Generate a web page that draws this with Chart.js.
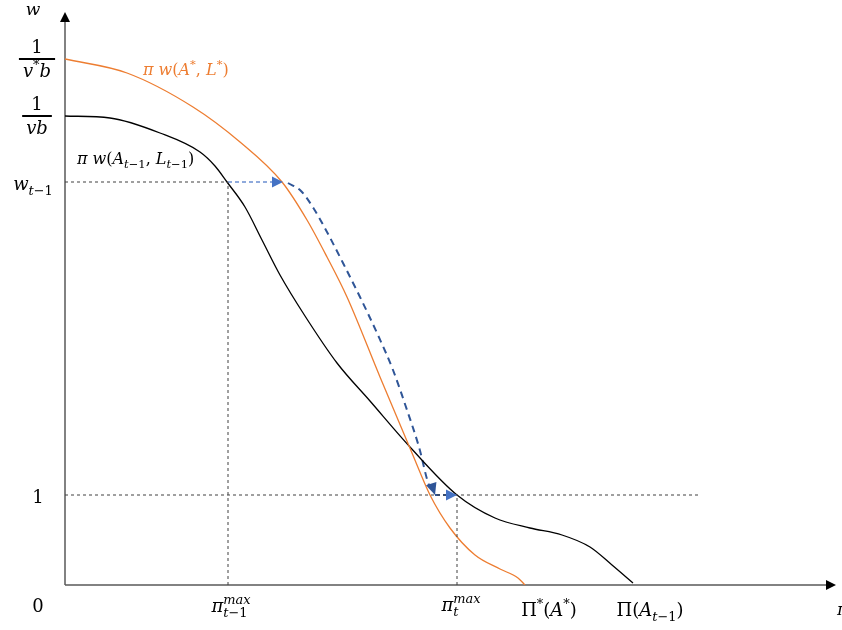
<!DOCTYPE html>
<html>
<head>
<meta charset="utf-8">
<script src="https://cdn.jsdelivr.net/npm/chart.js@4/dist/chart.umd.min.js"></script>
<style>html,body{margin:0;padding:0;background:#fff;}canvas{display:block;}</style>
</head>
<body>
<canvas id="c" width="842" height="630"></canvas>
<script>
// ---- data (diagram units: x = π, y = w) ----
const orangeX = [0,62,128,175,217,242,262,282,315,347,365,385,410,435,453,460];
const orangeY = [526,512,478,443,403,365,328,288,208,132,90,57,30,16,7,0];
const blackX = [0,45,95,135,150,162,180,197,215,240,272,305,345,392,430,465,497,525,547,568];
const blackY = [469,467,452,433,419,403,378,345,310,269,222,184,138,90,67,57,50,38,20,2];
const pathX = [223,236,249,262,278,295,312,328,342,354,364];
const pathY = [402,394,376,353,322,288,252,215,175,138,100];
const pathEnd = [370,90];
const wPrev = 403, wOne = 90, piPrevMax = 163, piMax = 392, wStar = 526, wBase = 469;
const xMax = 770, yMax = 575;
const yTickValues = [0, wOne, wPrev];
const yTickLabels = ['0', '1', 'w_{t−1}'];
const yFracValues = [wStar, wBase];
const yFracLabels = [['1','v^{*}b'], ['1','vb']];
const xTickValues = [piPrevMax, piMax, 484, 585];
const xTickLabels = ['π_{t−1}^{max}', 'π_{t}^{max}', 'Π^{*}(A^{*})', 'Π(A_{t−1})'];
const axisLabels = ['w', 'π'];
const curveLabels = ['π w(A^{*}, L^{*})', 'π w(A_{t−1}, L_{t−1})'];

const pts = (xs, ys) => xs.map((x, i) => ({x, y: ys[i]}));

const FONT = '"DejaVu Serif"';
const SIZE = 17;
function fontFor(ch, size){ const it = /[a-zA-Zπ]/.test(ch); return (it ? 'italic ' : '') + size + 'px ' + FONT; }
function parse(s){
  const items = []; let i = 0;
  while (i < s.length){
    const c = s[i];
    if ((c === '_' || c === '^') && items.length && s[i+1] === '{'){
      const j = s.indexOf('}', i);
      items[items.length-1][c === '_' ? 'sub' : 'sup'] = s.slice(i+2, j);
      i = j + 1;
    } else { items.push({t: c}); i++; }
  }
  return items;
}
function runW(ctx, str, size){ let w = 0; for (const ch of str){ ctx.font = fontFor(ch, size); w += ctx.measureText(ch).width; } return w; }
function runD(ctx, str, x, y, size){ for (const ch of str){ ctx.font = fontFor(ch, size); ctx.fillText(ch, x, y); x += ctx.measureText(ch).width; } return x; }
function richW(ctx, s, size){
  let w = 0; const ss = size * 0.72;
  for (const it of parse(s)){
    w += runW(ctx, it.t, size);
    w += Math.max(it.sub ? runW(ctx, it.sub, ss) : 0, it.sup ? runW(ctx, it.sup, ss) : 0);
  }
  return w;
}
function richD(ctx, s, x, base, size, color, align){
  ctx.fillStyle = color; ctx.textBaseline = 'alphabetic'; ctx.textAlign = 'left';
  const w = richW(ctx, s, size);
  if (align === 'center') x -= w / 2; else if (align === 'right') x -= w;
  const ss = size * 0.72;
  for (const it of parse(s)){
    x = runD(ctx, it.t, x, base, size);
    let adv = 0;
    if (it.sub){ runD(ctx, it.sub, x, base + size * 0.28, ss); adv = Math.max(adv, runW(ctx, it.sub, ss)); }
    if (it.sup){ runD(ctx, it.sup, x, base - size * 0.45, ss); adv = Math.max(adv, runW(ctx, it.sup, ss)); }
    x += adv;
  }
  return w;
}
function tri(ctx, tx, ty, ang, len, hw, color){
  ctx.save(); ctx.translate(tx, ty); ctx.rotate(ang);
  ctx.beginPath(); ctx.moveTo(0, 0); ctx.lineTo(-len, -hw); ctx.lineTo(-len, hw); ctx.closePath();
  ctx.fillStyle = color; ctx.fill(); ctx.restore();
}

const diagramPlugin = {
  id: 'diagram',
  beforeDatasetsDraw(chart){
    const ctx = chart.ctx, xs = chart.scales.x, ys = chart.scales.y;
    const x0 = xs.getPixelForValue(0), y0 = ys.getPixelForValue(0);
    ctx.save();
    ctx.strokeStyle = '#595959'; ctx.lineWidth = 1.5;
    ctx.beginPath(); ctx.moveTo(x0, y0); ctx.lineTo(x0, ys.getPixelForValue(yMax) + 6); ctx.stroke();
    ctx.beginPath(); ctx.moveTo(x0, y0); ctx.lineTo(xs.getPixelForValue(xMax) - 4, y0); ctx.stroke();
    tri(ctx, x0, ys.getPixelForValue(yMax) + 2, -Math.PI/2, 10, 5, '#000');
    tri(ctx, xs.getPixelForValue(xMax) + 1, y0, 0, 10, 5, '#000');
    ctx.restore();
  },
  afterDatasetsDraw(chart){
    const ctx = chart.ctx, xs = chart.scales.x, ys = chart.scales.y;
    const px = v => xs.getPixelForValue(v), py = v => ys.getPixelForValue(v);
    ctx.save();
    // arrowheads
    tri(ctx, px(pathX[0]) - 5, py(wPrev), 0, 11, 5.5, '#4472C4');
    const ax = px(pathEnd[0]), ay = py(pathEnd[1]);
    const bx = px(pathX[pathX.length-2]), by = py(pathY[pathY.length-2]);
    tri(ctx, ax, ay, Math.atan2(ay - by, ax - bx), 12, 5.5, '#2F5597');
    tri(ctx, px(piMax), py(wOne), 0, 11, 5.5, '#4472C4');
    // y labels
    const lx = px(0) - 27;
    yTickValues.forEach((v, i) => {
      const base = v === 0 ? py(v) + 27 : py(v) + 8;
      richD(ctx, yTickLabels[i], i === 2 ? lx - 5 : lx, base, SIZE + 1, '#000', 'center');
    });
    yFracValues.forEach((v, i) => {
      const [num, den] = yFracLabels[i];
      const y = py(v), cx = lx - 1;
      const dw = richW(ctx, den, SIZE + 1);
      ctx.fillStyle = '#000';
      ctx.fillRect(cx - dw/2 - 4, y - 1, dw + 8, 2);
      richD(ctx, num, cx, y - 6, SIZE + 1, '#000', 'center');
      richD(ctx, den, cx, y + 18, SIZE + 1, '#000', 'center');
    });
    // x labels
    const xb = [py(0) + 27, py(0) + 26, py(0) + 31, py(0) + 31];
    const xo = [3, 4, 0, 0];
    xTickValues.forEach((v, i) => richD(ctx, xTickLabels[i], px(v) + xo[i], xb[i], SIZE + 1, '#000', 'center'));
    // axis names
    richD(ctx, axisLabels[0], px(0) - 32, py(yMax) + 5, SIZE, '#000', 'center');
    richD(ctx, axisLabels[1], px(xMax) + 2, py(0) + 30, SIZE, '#000', 'left');
    // curve labels
    richD(ctx, curveLabels[0], px(orangeX[1]) + 16, py(orangeY[1]) + 2, SIZE - 1, '#ED7D31', 'left');
    richD(ctx, curveLabels[1], px(0) + 12, py(wPrev) - 18, SIZE - 1, '#000', 'left');
    ctx.restore();
  }
};

const gray = '#404040';
const base = {showLine: true, pointRadius: 0, fill: false, borderWidth: 1};
new Chart(document.getElementById('c'), {
  type: 'scatter',
  data: {
    datasets: [
      {...base, data: pts([0, piPrevMax], [wPrev, wPrev]), borderColor: gray, borderDash: [3, 3]},
      {...base, data: pts([piPrevMax, piPrevMax], [0, wPrev]), borderColor: gray, borderDash: [3, 3]},
      {...base, data: pts([0, 635], [wOne, wOne]), borderColor: gray, borderDash: [3, 3]},
      {...base, data: pts([piMax, piMax], [0, wOne]), borderColor: gray, borderDash: [3, 3]},
      {...base, data: pts([piPrevMax, pathX[0] - 14], [wPrev, wPrev]), borderColor: '#8FAADC', borderWidth: 2, borderDash: [4, 3]},
      {...base, data: pts(orangeX, orangeY), borderColor: '#ED7D31', borderWidth: 1.3, cubicInterpolationMode: 'monotone'},
      {...base, data: pts(blackX, blackY), borderColor: '#000', borderWidth: 1.3, cubicInterpolationMode: 'monotone'},
      {...base, data: pts(pathX.concat([pathEnd[0]-2]), pathY.concat([pathEnd[1]+6])), borderColor: '#2F5597', borderWidth: 2, borderDash: [7, 5], cubicInterpolationMode: 'monotone'},
      {...base, data: pts([pathEnd[0], piMax - 9], [wOne, wOne]), borderColor: '#2F5597', borderWidth: 2, borderDash: [5, 3]}
    ]
  },
  options: {
    responsive: false, animation: false, events: [],
    layout: {padding: {left: 65, right: 7, top: 10, bottom: 45}},
    scales: {
      x: {type: 'linear', min: 0, max: xMax, display: false},
      y: {type: 'linear', min: 0, max: yMax, display: false}
    },
    plugins: {legend: {display: false}, tooltip: {enabled: false}}
  },
  plugins: [diagramPlugin]
});
</script>
</body>
</html>
